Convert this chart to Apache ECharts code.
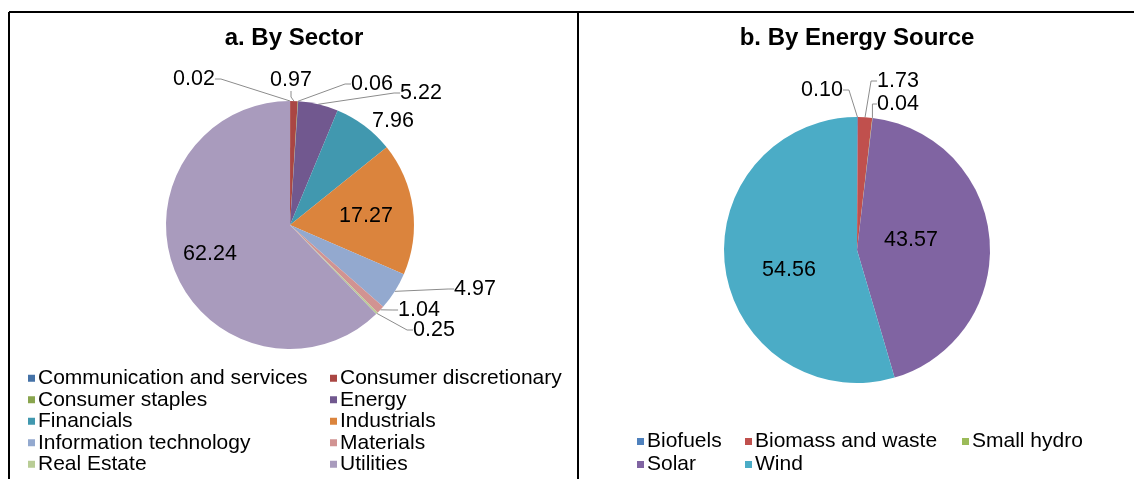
<!DOCTYPE html>
<html>
<head>
<meta charset="utf-8">
<script src="https://cdn.jsdelivr.net/npm/echarts@6/dist/echarts.min.js"></script>
<style>
html, body { margin: 0; padding: 0; background: #fff; }
#chart { width: 1134px; height: 479px; }
</style>
</head>
<body>
<div id="chart"></div>
<script>
// data
var sectorNames = ['Communication and services', 'Consumer discretionary', 'Consumer staples', 'Energy',
    'Financials', 'Industrials', 'Information technology', 'Materials', 'Real Estate', 'Utilities'];
var sectorValues = [0.02, 0.97, 0.06, 5.22, 7.96, 17.27, 4.97, 1.04, 0.25, 62.24];

var sourceNames = ['Biofuels', 'Biomass and waste', 'Small hydro', 'Solar', 'Wind'];
var sourceValues = [0.10, 1.73, 0.04, 43.57, 54.56];

// styles
var sectorColors = ['#4572A7', '#AA4643', '#89A54E', '#71588F', '#4198AF',
    '#DB843D', '#93A9CF', '#D19392', '#B9CD96', '#A99BBD'];
var sourceColors = ['#4F81BD', '#C0504D', '#9BBB59', '#8064A2', '#4BACC6'];
var font = 'Liberation Sans';

// where each value label sits (label centres, px)
var sectorLabelXY = [[194, 79], [291, 80], [372, 84], [421, 93], [393, 121],
    [366, 216], [475, 289], [419, 310], [434, 330], [210, 254]];
var sourceLabelXY = [[822, 90], [898, 81], [898, 104], [911, 240], [789, 270]];
var sectorInside = [5, 9];
var sectorNoLine = [4];
var sourceInside = [3, 4];

function pieData(names, values, colors, inside, noLine) {
    return names.map(function (n, i) {
        var isIn = inside.indexOf(i) >= 0;
        return {
            name: n,
            value: values[i],
            itemStyle: { color: colors[i] },
            label: { position: isIn ? 'inside' : 'outside' },
            labelLine: { show: !isIn && noLine.indexOf(i) < 0 }
        };
    });
}

function pieSeries(name, data, center, radius, labelXY) {
    return {
        name: name,
        type: 'pie',
        center: center,
        radius: radius,
        startAngle: 90,
        clockwise: true,
        avoidLabelOverlap: false,
        data: data,
        itemStyle: { borderWidth: 0 },
        label: {
            formatter: function (p) { return p.value.toFixed(2); },
            fontFamily: font,
            fontSize: 21.5,
            color: '#000'
        },
        labelLine: { show: true, length: 6, length2: 6, lineStyle: { color: '#8c8c8c', width: 1 } },
        labelLayout: function (p) {
            var xy = labelXY[p.dataIndex];
            return { x: xy[0], y: xy[1], align: 'center', verticalAlign: 'middle' };
        },
        emphasis: { disabled: true }
    };
}

function legend(names, left, top, gap) {
    return {
        data: names,
        orient: 'vertical',
        left: left,
        top: top,
        padding: 0,
        itemGap: 0,
        icon: 'rect',
        itemWidth: 7,
        itemHeight: 7,
        selectedMode: false,
        textStyle: { fontFamily: font, fontSize: 21, color: '#000', lineHeight: gap, padding: [0, 0, 0, -2] }
    };
}

var myChart = echarts.init(document.getElementById('chart'));

var option = {
    animation: false,
    legend: [
        legend([sectorNames[0], sectorNames[2], sectorNames[4], sectorNames[6], sectorNames[8]], 28, 367.5, 21.5),
        legend([sectorNames[1], sectorNames[3], sectorNames[5], sectorNames[7], sectorNames[9]], 330, 367.5, 21.5),
        legend([sourceNames[0], sourceNames[3]], 637, 430, 23),
        legend([sourceNames[1], sourceNames[4]], 745, 430, 23),
        legend([sourceNames[2]], 962, 430, 23)
    ],
    series: [
        pieSeries('By Sector', pieData(sectorNames, sectorValues, sectorColors, sectorInside, sectorNoLine), [290, 225], 124, sectorLabelXY),
        pieSeries('By Energy Source', pieData(sourceNames, sourceValues, sourceColors, sourceInside, []), [857, 250], 133, sourceLabelXY)
    ],
    graphic: [
        { type: 'line', shape: { x1: 9, y1: 12, x2: 1134, y2: 12 }, style: { stroke: '#000', lineWidth: 2 } },
        { type: 'line', shape: { x1: 9, y1: 12, x2: 9, y2: 479 }, style: { stroke: '#000', lineWidth: 2 } },
        { type: 'line', shape: { x1: 578, y1: 12, x2: 578, y2: 479 }, style: { stroke: '#000', lineWidth: 2 } },
        { type: 'text', x: 294, y: 38, style: { text: 'a. By Sector', font: 'bold 24px "Liberation Sans"', fill: '#000', align: 'center', verticalAlign: 'middle' } },
        { type: 'text', x: 857, y: 38, style: { text: 'b. By Energy Source', font: 'bold 24px "Liberation Sans"', fill: '#000', align: 'center', verticalAlign: 'middle' } }
    ]
};

myChart.setOption(option);
</script>
</body>
</html>
